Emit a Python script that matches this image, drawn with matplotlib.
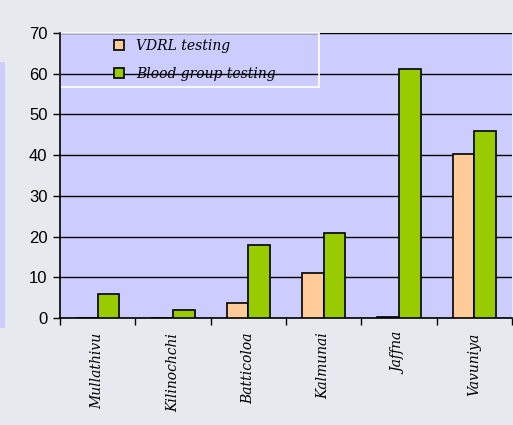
import matplotlib
matplotlib.use("Agg")
import matplotlib.pyplot as plt
import matplotlib.patches as mpatches
import numpy as np

categories = ["Mullathivu", "Kilinochchi", "Batticoloa", "Kalmunai", "Jaffna", "Vavuniya"]
vdrl = [0, 0, 3.7, 11, 0.3, 40.3]
blood = [6, 2, 18, 21, 61.2, 46]
series_names = ["VDRL testing", "Blood group testing"]
yticks = [0, 10, 20, 30, 40, 50, 60, 70]

fig = plt.figure(figsize=(5.13, 4.25), dpi=100)
fig.patch.set_facecolor("#E6E9EE")

# decorative strip of a chart behind on the left
fig.patches.append(mpatches.Rectangle((0, 1 - 328 / 425), 5 / 513, (328 - 62) / 425,
                                      transform=fig.transFigure, facecolor="#CCCCFF",
                                      edgecolor="none", zorder=0))

ax = fig.add_axes([60 / 513, 1 - 318 / 425, 452 / 513, 285 / 425])
ax.set_facecolor("#CCCCFF")
x = np.arange(len(categories))
w = 0.286
ax.bar(x - w / 2, vdrl, w, color="#FFCC99", edgecolor="black", linewidth=1.2,
       label=series_names[0], zorder=3)
ax.bar(x + w / 2, blood, w, color="#99CC00", edgecolor="black", linewidth=1.2,
       label=series_names[1], zorder=3)

ax.set_xlim(-0.5, len(categories) - 0.5)
ax.set_ylim(0, 70)
ax.set_yticks(yticks)
ax.set_yticklabels([str(v) for v in yticks], fontfamily="Liberation Sans", fontsize=12)
ax.yaxis.grid(True, color="black", linewidth=1.0, zorder=1)
ax.set_axisbelow(True)

ax.set_xticks(np.arange(len(categories) + 1) - 0.5)
ax.set_xticklabels([])
ax.tick_params(axis="x", direction="out", length=5, width=1)
ax.tick_params(axis="y", direction="out", length=5, width=1, pad=4)
for i, c in enumerate(categories):
    ax.text(i, -3.6, c, rotation=90, ha="center", va="top", fontsize=10,
            fontfamily="DejaVu Serif", fontstyle="italic", transform=ax.transData,
            clip_on=False)

for s in ["top", "right"]:
    ax.spines[s].set_visible(False)
ax.spines["left"].set_linewidth(1.2)
ax.spines["bottom"].set_linewidth(1.2)

# legend frame
ax.add_patch(mpatches.Rectangle((0.0, 1 - (87 - 33) / 285), (319 - 60) / 452, (87 - 33) / 285,
                                transform=ax.transAxes, facecolor="none", edgecolor="white",
                                linewidth=1.2, zorder=2, clip_on=False))
leg = ax.legend(loc="upper left", bbox_to_anchor=((110 - 60) / 452, 1.0 - 2 / 285), frameon=False,
                prop={"family": "DejaVu Serif", "style": "italic", "size": 10},
                handlelength=0.7, handleheight=0.7, borderpad=0.3, labelspacing=1.0,
                borderaxespad=0.0, handletextpad=0.9)

fig.savefig("out.png", dpi=100, facecolor=fig.get_facecolor())
